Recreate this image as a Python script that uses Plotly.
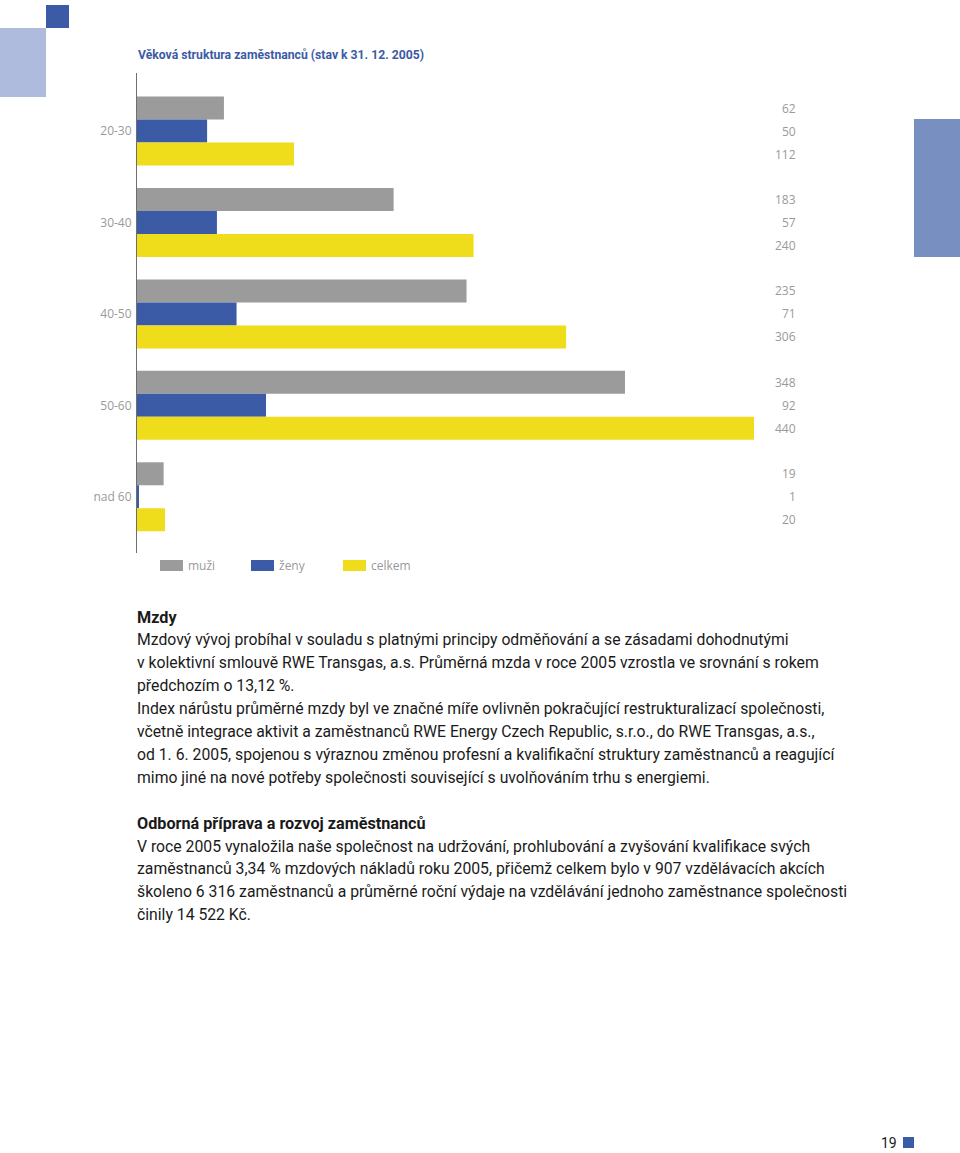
import plotly.graph_objects as go

W, H = 960, 1153

# ---- data ----
categories = ["20-30", "30-40", "40-50", "50-60", "nad 60"]
series_names = ["muži", "ženy", "celkem"]
muzi = [62, 183, 235, 348, 19]
zeny = [50, 57, 71, 92, 1]
celkem = [112, 240, 306, 440, 20]
series_values = [muzi, zeny, celkem]
colors = ["#9b9b9b", "#3c5ba6", "#efdc1b"]

title_text = "Věková struktura zaměstnanců (stav k 31. 12. 2005)"
heading1 = "Mzdy"
para1 = [
    "Mzdový vývoj probíhal v souladu s platnými principy odměňování a se zásadami dohodnutými",
    "v kolektivní smlouvě RWE Transgas, a.s. Průměrná mzda v roce 2005 vzrostla ve srovnání s rokem",
    "předchozím o 13,12 %.",
    "Index nárůstu průměrné mzdy byl ve značné míře ovlivněn pokračující restrukturalizací společnosti,",
    "včetně integrace aktivit a zaměstnanců RWE Energy Czech Republic, s.r.o., do RWE Transgas, a.s.,",
    "od 1. 6. 2005, spojenou s výraznou změnou profesní a kvalifikační struktury zaměstnanců a reagující",
    "mimo jiné na nové potřeby společnosti související s uvolňováním trhu s energiemi.",
]
heading2 = "Odborná příprava a rozvoj zaměstnanců"
para2 = [
    "V roce 2005 vynaložila naše společnost na udržování, prohlubování a zvyšování kvalifikace svých",
    "zaměstnanců 3,34 % mzdových nákladů roku 2005, přičemž celkem bylo v 907 vzdělávacích akcích",
    "školeno 6 316 zaměstnanců a průměrné roční výdaje na vzdělávání jednoho zaměstnance společnosti",
    "činily 14 522 Kč.",
]
page_number = "19"


def px(x):
    return x / W


def py(y):
    return 1 - y / H


fig = go.Figure()
for name, vals, col in zip(series_names, series_values, colors):
    fig.add_trace(go.Bar(
        y=categories, x=vals, name=name, orientation="h",
        marker=dict(color=col, line=dict(width=0)),
        showlegend=False, hoverinfo="x+name",
    ))

# plot area in pixels
x0, y_top, y_bot = 137, 73, 553
scale = 617 / 440  # px per unit
x_max = (W - x0) / scale

annotations = []
shapes = []

# value labels on the right
shifts = [23, 0, -23]
for vals, sh in zip(series_values, shifts):
    for cat, v in zip(categories, vals):
        annotations.append(dict(
            x=px(798), xref="paper", y=cat, yref="y", yshift=sh,
            text=str(v), showarrow=False, xanchor="right", yanchor="middle",
            font=dict(family="Open Sans", size=12, color="#9a9a9a"),
        ))

# legend (manual)
leg_pos = [(160, 186), (251, 277), (343, 369)]
for (sx, lx), name, col in zip(leg_pos, series_names, colors):
    shapes.append(dict(type="rect", xref="paper", yref="paper",
                       x0=px(sx), x1=px(sx + 23), y0=py(571), y1=py(560),
                       fillcolor=col, line=dict(width=0)))
    annotations.append(dict(x=px(lx), y=py(565.5), xref="paper", yref="paper",
                            text=name, showarrow=False, xanchor="left", yanchor="middle",
                            font=dict(family="Open Sans", size=12, color="#9a9a9a")))

# chart title
annotations.append(dict(x=px(136), y=py(55), xref="paper", yref="paper",
                        text="<b>" + title_text + "</b>", showarrow=False,
                        xanchor="left", yanchor="middle",
                        font=dict(family="Roboto", size=12.2, color="#3c5ba6")))

body_font = dict(family="Roboto", size=15.75, color="#1a1a1a")
head_font = dict(family="Roboto", size=16.2, color="#1a1a1a")


def add_line(text, y, bold=False):
    annotations.append(dict(x=px(135), y=py(y), xref="paper", yref="paper",
                            text=("<b>" + text + "</b>") if bold else text,
                            showarrow=False, xanchor="left", yanchor="middle",
                            font=head_font if bold else body_font))


add_line(heading1, 617, bold=True)
for i, t in enumerate(para1):
    add_line(t, 639.5 + i * 23)
add_line(heading2, 823, bold=True)
for i, t in enumerate(para2):
    add_line(t, 846 + i * 22.8)

# page number
annotations.append(dict(x=px(899), y=py(1143), xref="paper", yref="paper",
                        text=page_number, showarrow=False, xanchor="right", yanchor="middle",
                        font=dict(family="Roboto", size=14, color="#1a1a1a")))

# decorative squares
deco = [
    (46, 5, 69, 28, "#3c5ba6"),
    (0, 28, 46, 97, "#aebbdc"),
    (914, 119, 960, 257, "#788fc1"),
    (903, 1137, 914, 1148, "#3c5ba6"),
]
for a, b, c, d, col in deco:
    shapes.append(dict(type="rect", xref="paper", yref="paper",
                       x0=px(a), x1=px(c), y0=py(d), y1=py(b),
                       fillcolor=col, line=dict(width=0), layer="below"))

fig.update_layout(
    width=W, height=H,
    margin=dict(l=0, r=0, t=0, b=0),
    paper_bgcolor="white", plot_bgcolor="white",
    barmode="group", bargap=0.246, bargroupgap=0,
    xaxis=dict(domain=[px(x0), 1], range=[0, x_max], showgrid=False,
               zeroline=False, showline=False, showticklabels=False, fixedrange=True),
    yaxis=dict(domain=[py(y_bot), py(y_top)], type="category",
               range=[4.615, -0.635], showgrid=False, zeroline=False,
               showline=True, linecolor="#6e6e6e", linewidth=1, ticks="",
               ticklabelstandoff=2,
               tickfont=dict(family="Open Sans", size=12, color="#9a9a9a")),
    annotations=annotations,
    shapes=shapes,
)

fig.write_html("out.html")
